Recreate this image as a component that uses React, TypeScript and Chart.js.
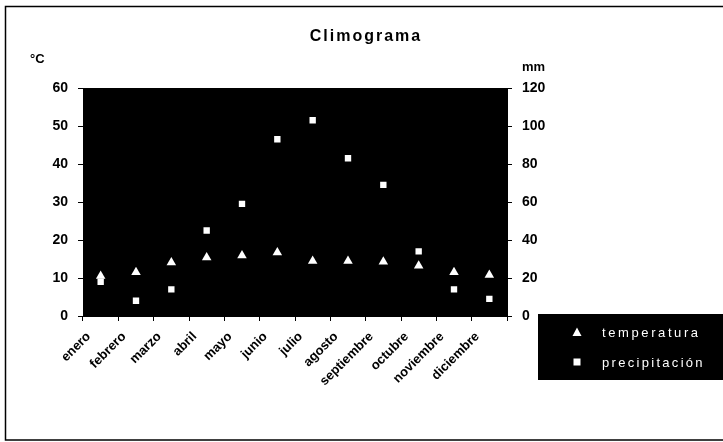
import React, { useEffect, useRef } from 'react';
import { Chart, registerables } from 'chart.js';

Chart.register(...registerables);

const months = ['enero', 'febrero', 'marzo', 'abril', 'mayo', 'junio', 'julio', 'agosto', 'septiembre', 'octubre', 'noviembre', 'diciembre'];
const temperatura = [10.5, 11.5, 14.1, 15.4, 15.9, 16.7, 14.5, 14.5, 14.3, 13.2, 11.5, 10.8];
const precipitacion = [18, 8, 14, 45, 59, 93, 103, 83, 69, 34, 14, 9];
const titleText = 'Climograma';
const leftUnit = '°C';
const rightUnit = 'mm';
const legendLabels = ['temperatura', 'precipitación'];

const W = 723;
const H = 442;

const decoPlugin = {
  id: 'deco',
  beforeDraw(chart: any) {
    const { ctx, chartArea } = chart;
    const { left, top, right, bottom } = chartArea;
    ctx.save();
    ctx.fillStyle = '#fff';
    ctx.fillRect(0, 0, W, H);
    ctx.fillStyle = '#000';
    ctx.fillRect(left, top, right - left, bottom - top);
    ctx.restore();
  },
  afterDraw(chart: any) {
    const { ctx } = chart;
    ctx.save();
    // frame
    ctx.strokeStyle = '#000';
    ctx.lineWidth = 1.5;
    ctx.strokeRect(5.5, 6.5, W + 10, 433.5);
    // title
    ctx.fillStyle = '#000';
    ctx.font = 'bold 16px "Liberation Sans", Arial, sans-serif';
    (ctx as any).letterSpacing = '2px';
    ctx.textAlign = 'center';
    ctx.textBaseline = 'alphabetic';
    ctx.fillText(titleText, 366, 41);
    // unit labels
    (ctx as any).letterSpacing = '0px';
    ctx.font = 'bold 13px "Liberation Sans", Arial, sans-serif';
    ctx.textAlign = 'left';
    ctx.fillText(leftUnit, 30, 63);
    ctx.font = 'bold 13px "Liberation Sans", Arial, sans-serif';
    ctx.fillText(rightUnit, 522, 71);
    // legend
    ctx.fillStyle = '#000';
    ctx.fillRect(538, 314, W - 538 + 5, 66);
    ctx.fillStyle = '#fff';
    // triangle
    ctx.beginPath();
    ctx.moveTo(577, 327.5);
    ctx.lineTo(581.5, 336);
    ctx.lineTo(572.5, 336);
    ctx.closePath();
    ctx.fill();
    // square
    ctx.fillRect(573.5, 358.5, 7, 7);
    ctx.font = '13px "Liberation Sans", Arial, sans-serif';
    (ctx as any).letterSpacing = '2.6px';
    ctx.textBaseline = 'middle';
    ctx.fillText(legendLabels[0], 602, 333);
    (ctx as any).letterSpacing = '2.3px';
    ctx.fillText(legendLabels[1], 602, 363);
    ctx.restore();
  },
};

export default function App() {
  const ref = useRef<HTMLCanvasElement>(null);
  useEffect(() => {
    if (!ref.current) return;
    const tickFont = { family: '"Liberation Sans", Arial, sans-serif', size: 14, weight: 'bold' as const };
    const chart = new Chart(ref.current, {
      type: 'line',
      data: {
        labels: months,
        datasets: [
          {
            label: legendLabels[0],
            data: temperatura,
            yAxisID: 'y',
            showLine: false,
            pointStyle: 'triangle',
            pointRadius: 5.5,
            backgroundColor: '#fff',
            borderColor: '#fff',
            borderWidth: 0,
          },
          {
            label: legendLabels[1],
            data: precipitacion,
            yAxisID: 'y1',
            showLine: false,
            pointStyle: 'rect',
            pointRadius: 4.5,
            backgroundColor: '#fff',
            borderColor: '#fff',
            borderWidth: 0,
          },
        ],
      },
      options: {
        responsive: false,
        animation: false,
        layout: { padding: { top: 88, left: 0, right: 0, bottom: 0 } },
        plugins: { legend: { display: false }, tooltip: { enabled: false }, title: { display: false } },
        scales: {
          x: {
            type: 'category',
            offset: true,
            grid: { display: true, drawOnChartArea: false, offset: true, tickLength: 5, color: '#000' },
            border: { display: true, color: '#000', width: 1 },
            ticks: {
              color: '#000',
              font: { family: '"Liberation Sans", Arial, sans-serif', size: 13, weight: 'bold' },
              minRotation: 45,
              maxRotation: 45,
              autoSkip: false,
              padding: 8,
              labelOffset: -12,
            },
            afterFit(scale: any) {
              scale.height = 126;
            },
          },
          y: {
            position: 'left',
            min: 0,
            max: 60,
            ticks: { stepSize: 10, color: '#000', font: tickFont, padding: 10 },
            grid: { drawOnChartArea: false, tickLength: 5, color: '#000' },
            border: { display: true, color: '#000' },
            afterFit(scale: any) {
              scale.width = 83;
            },
          },
          y1: {
            position: 'right',
            min: 0,
            max: 120,
            ticks: { stepSize: 20, color: '#000', font: tickFont, padding: 10 },
            grid: { drawOnChartArea: false, tickLength: 5, color: '#000' },
            border: { display: true, color: '#000' },
            afterFit(scale: any) {
              scale.width = W - 507;
            },
          },
        },
      },
      plugins: [decoPlugin],
    });
    return () => chart.destroy();
  }, []);
  return (
    <div style={{ position: 'fixed', left: 0, top: 0, width: W, height: H, background: '#fff' }}>
      <canvas ref={ref} width={W} height={H} style={{ display: 'block', width: W, height: H }} />
    </div>
  );
}
